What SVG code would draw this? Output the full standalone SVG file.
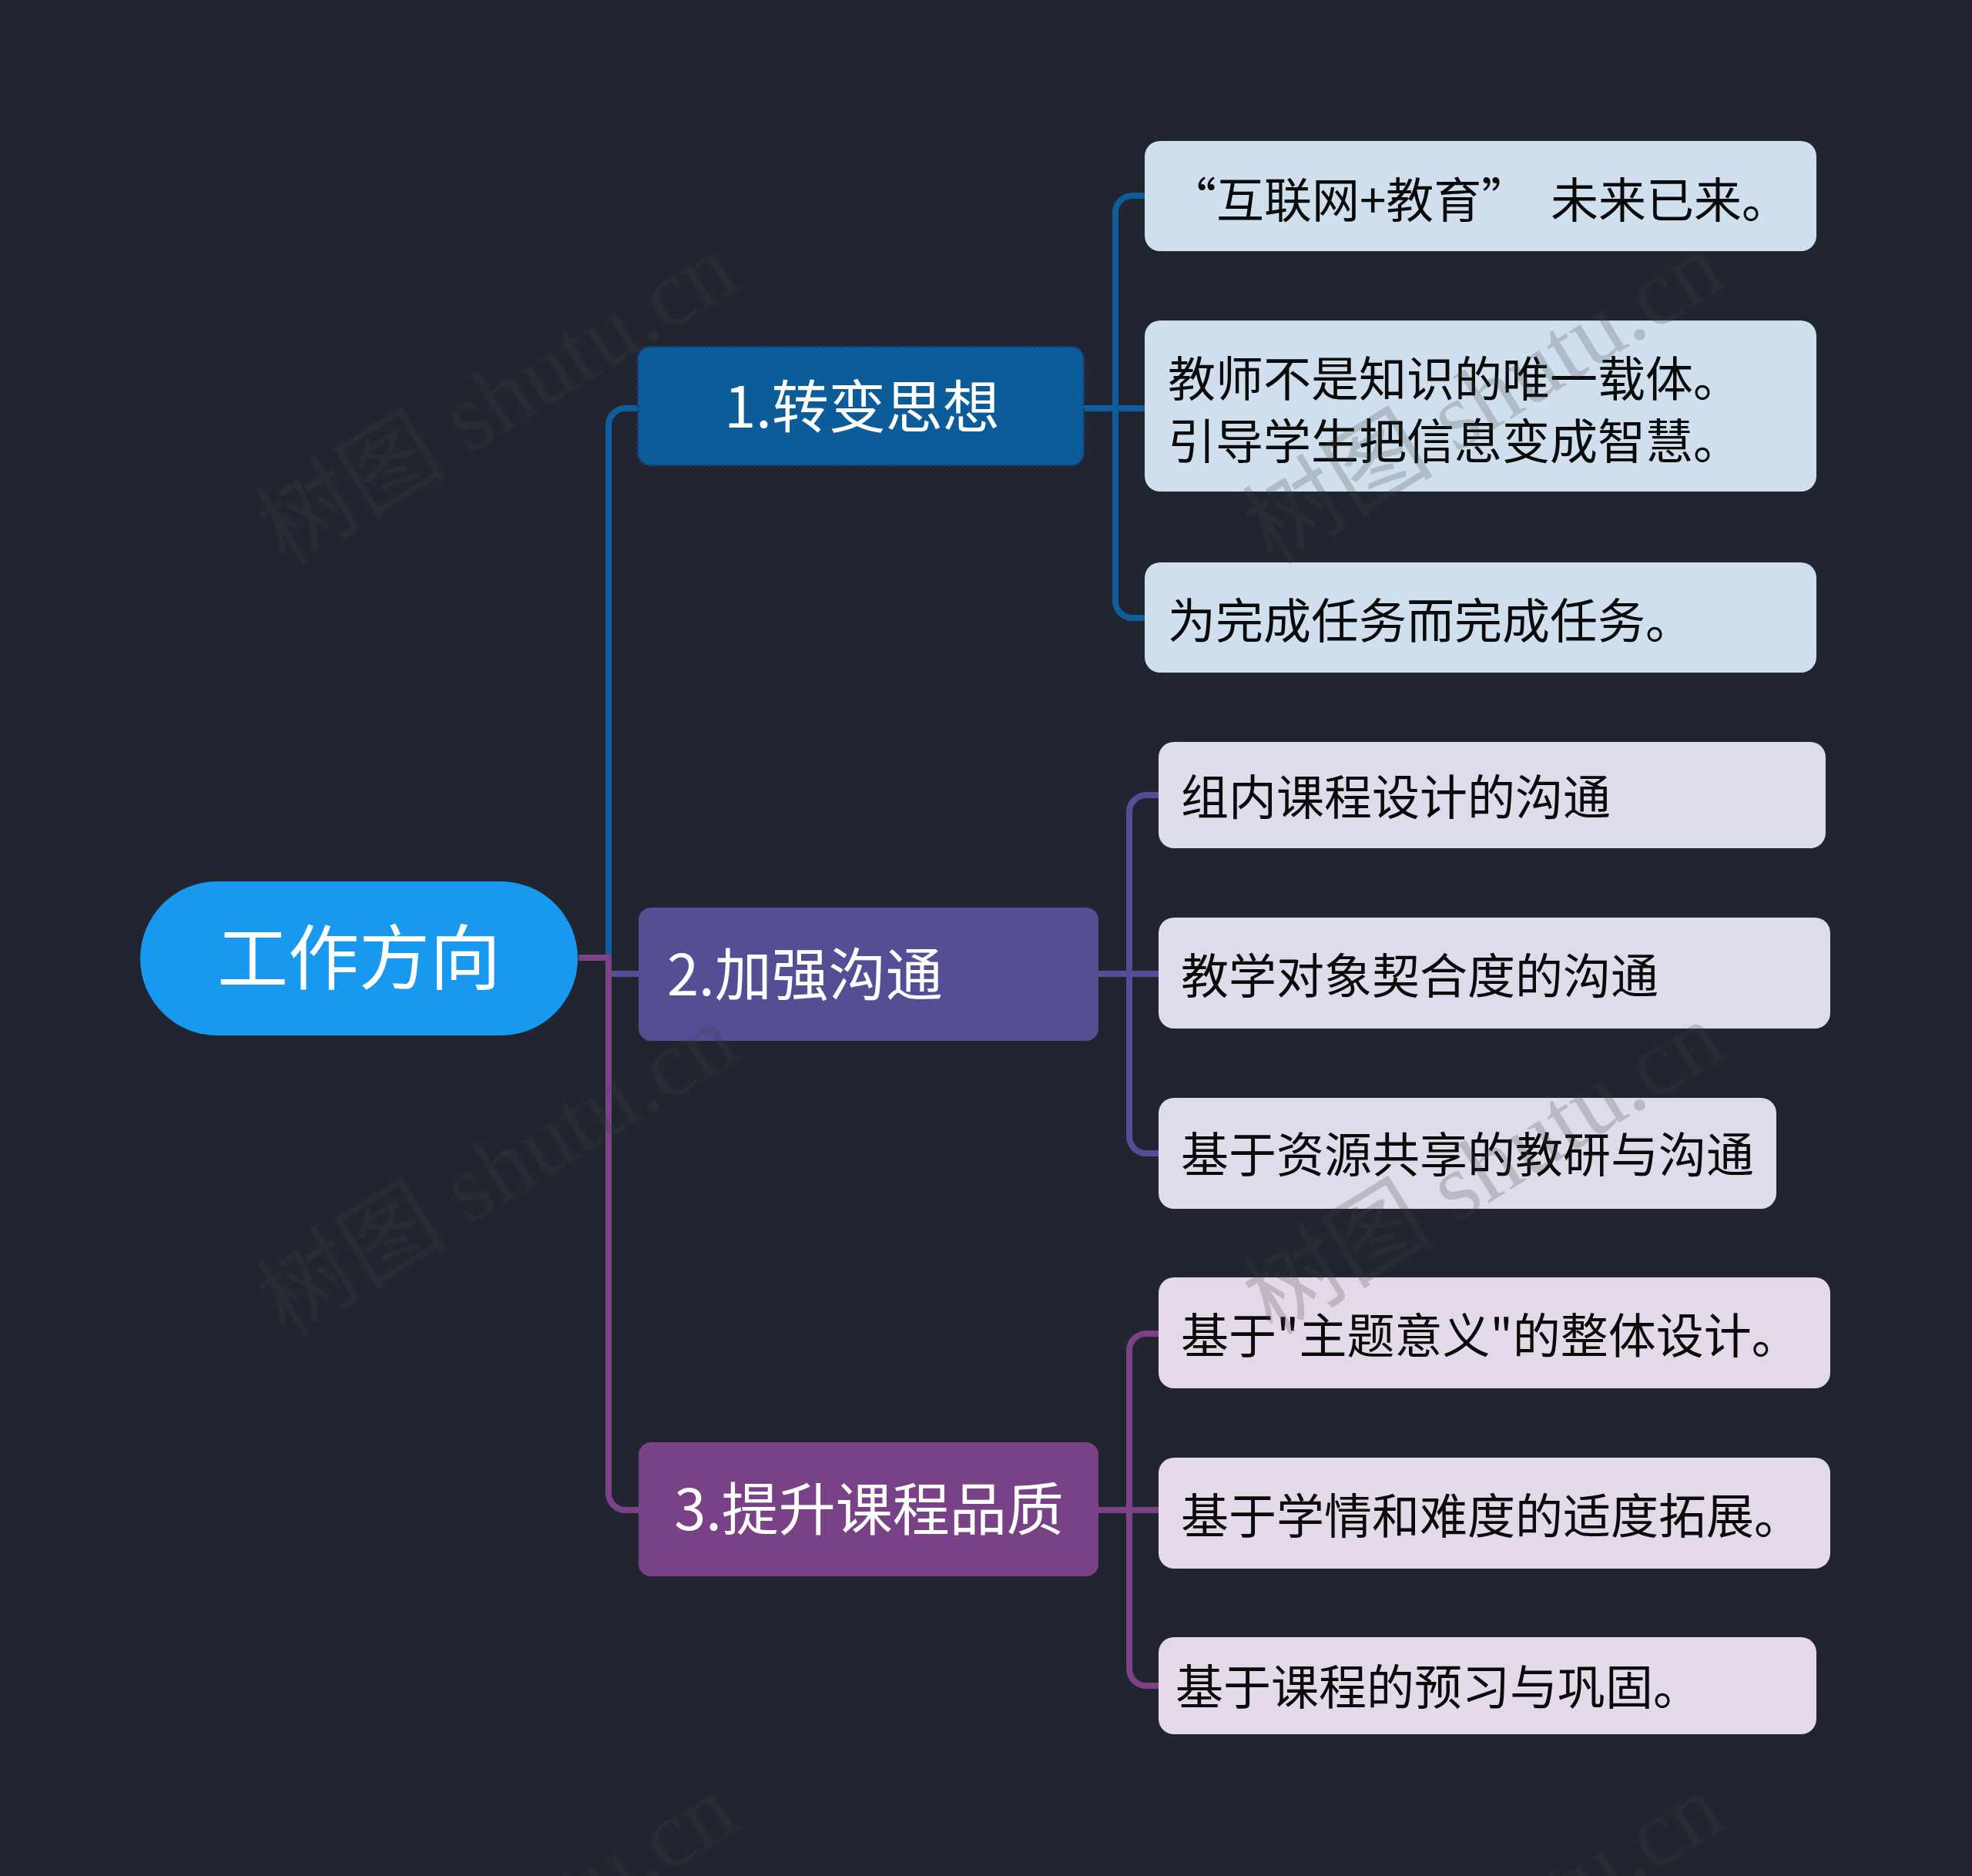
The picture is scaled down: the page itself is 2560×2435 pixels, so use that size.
<svg xmlns="http://www.w3.org/2000/svg" width="2560" height="2435" viewBox="0 0 2560 2435">
<style>
.bg{fill:#212530}
.cn{fill:none;stroke-width:8;stroke-linejoin:round;stroke-linecap:butt}
.blue{stroke:#0e5e9c}
.purp{stroke:#554e96}
.mag{stroke:#7b4286}
.t{font-family:"Noto Sans CJK SC","Noto Sans",sans-serif}
.w{fill:#ffffff}
.k{fill:#0a0a0a;font-size:62px}
.c1{fill:#cfdfed}
.c2{fill:#dcdcea}
.c3{fill:#e4d9e8}
.wm{font-family:"Liberation Serif","Noto Sans CJK SC",serif;font-size:124px;fill:#404040;opacity:0.22}
</style>
<rect class="bg" x="0" y="0" width="2560" height="2435"/>
<g id="connectors">
<path class="cn blue" d="M751,1243 H790 V552 A22,22 0 0 1 812,530 H829"/>
<path class="cn purp" d="M751,1243 H790 V1264 H829"/>
<path class="cn mag" d="M751,1243 H790 V1938 A22,22 0 0 0 812,1960 H829"/>
<path class="cn blue" d="M1407,530 H1448 V276 A22,22 0 0 1 1470,254 H1486"/>
<path class="cn blue" d="M1407,530 H1486"/>
<path class="cn blue" d="M1407,530 H1448 V780 A22,22 0 0 0 1470,802 H1486"/>
<path class="cn purp" d="M1426,1264 H1466 V1054 A22,22 0 0 1 1488,1032 H1504"/>
<path class="cn purp" d="M1426,1264 H1504"/>
<path class="cn purp" d="M1426,1264 H1466 V1475 A22,22 0 0 0 1488,1497 H1504"/>
<path class="cn mag" d="M1426,1960 H1466 V1753 A22,22 0 0 1 1488,1731 H1504"/>
<path class="cn mag" d="M1426,1960 H1504"/>
<path class="cn mag" d="M1426,1960 H1466 V2166 A22,22 0 0 0 1488,2188 H1504"/>
</g>
<g id="root">
<rect x="182" y="1144" width="568" height="200" rx="100" fill="#1899ef"/>
<text class="t w" x="466" y="1277" font-size="92" text-anchor="middle">工作方向</text>
</g>
<g id="b1">
<rect x="828" y="450" width="579" height="154" rx="16" fill="#0c5c9a" stroke="#173f6c" stroke-width="3" stroke-dasharray="3 3"/>
<text class="t w" x="1119" y="555" font-size="74" text-anchor="middle">1.转变思想</text>
</g>
<g id="b2">
<rect x="829" y="1178" width="597" height="173" rx="16" fill="#544e95"/>
<text class="t w" x="866" y="1292" font-size="74">2.加强沟通</text>
</g>
<g id="b3">
<rect x="829" y="1872" width="597" height="174" rx="16" fill="#7a4286"/>
<text class="t w" x="1128" y="1986" font-size="74" text-anchor="middle">3.提升课程品质</text>
</g>
<g id="b1c1">
<rect class="c1" x="1486" y="183" width="872" height="143" rx="20"/>
<text class="t k" x="1920" y="283" text-anchor="middle" xml:space="preserve">“互联网+教育”  未来已来。</text>
</g>
<g id="b1c2">
<rect class="c1" x="1486" y="416" width="872" height="222" rx="20"/>
<text class="t k" x="1516" y="515">教师不是知识的唯一载体。</text>
<text class="t k" x="1516" y="596">引导学生把信息变成智慧。</text>
</g>
<g id="b1c3">
<rect class="c1" x="1486" y="730" width="872" height="143" rx="20"/>
<text class="t k" x="1516" y="829">为完成任务而完成任务。</text>
</g>
<g id="b2c1">
<rect class="c2" x="1504" y="963" width="866" height="138" rx="20"/>
<text class="t k" x="1533" y="1058">组内课程设计的沟通</text>
</g>
<g id="b2c2">
<rect class="c2" x="1504" y="1191" width="872" height="144" rx="20"/>
<text class="t k" x="1533" y="1290">教学对象契合度的沟通</text>
</g>
<g id="b2c3">
<rect class="c2" x="1504" y="1425" width="802" height="144" rx="20"/>
<text class="t k" x="1533" y="1522">基于资源共享的教研与沟通</text>
</g>
<g id="b3c1">
<rect class="c3" x="1504" y="1658" width="872" height="144" rx="20"/>
<text class="t k" x="1533" y="1757">基于"主题意义"的整体设计。</text>
</g>
<g id="b3c2">
<rect class="c3" x="1504" y="1892" width="872" height="144" rx="20"/>
<text class="t k" x="1533" y="1991">基于学情和难度的适度拓展。</text>
</g>
<g id="b3c3">
<rect class="c3" x="1504" y="2125" width="854" height="126" rx="20"/>
<text class="t k" x="1526" y="2213">基于课程的预习与巩固。</text>
</g>
<g id="watermarks">
<text class="wm" text-anchor="middle" transform="translate(646,520) rotate(-31.6)" y="40">树图 shutu.cn</text>
<text class="wm" text-anchor="middle" transform="translate(1927,518) rotate(-31.6)" y="40">树图 shutu.cn</text>
<text class="wm" text-anchor="middle" transform="translate(646,1520) rotate(-31.6)" y="40">树图 shutu.cn</text>
<text class="wm" text-anchor="middle" transform="translate(1927,1518) rotate(-31.6)" y="40">树图 shutu.cn</text>
<text class="wm" text-anchor="middle" transform="translate(646,2520) rotate(-31.6)" y="40">树图 shutu.cn</text>
<text class="wm" text-anchor="middle" transform="translate(1927,2518) rotate(-31.6)" y="40">树图 shutu.cn</text>
</g>
</svg>
